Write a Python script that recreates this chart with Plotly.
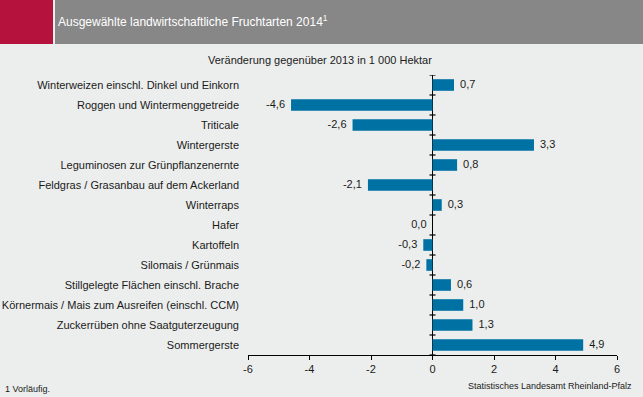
import plotly.graph_objects as go

categories = [
    "Winterweizen einschl. Dinkel und Einkorn",
    "Roggen und Wintermenggetreide",
    "Triticale",
    "Wintergerste",
    "Leguminosen zur Grünpflanzenernte",
    "Feldgras / Grasanbau auf dem Ackerland",
    "Winterraps",
    "Hafer",
    "Kartoffeln",
    "Silomais / Grünmais",
    "Stillgelegte Flächen einschl. Brache",
    "Körnermais / Mais zum Ausreifen (einschl. CCM)",
    "Zuckerrüben ohne Saatguterzeugung",
    "Sommergerste",
]
values = [0.7, -4.6, -2.6, 3.3, 0.8, -2.1, 0.3, 0.0, -0.3, -0.2, 0.6, 1.0, 1.3, 4.9]
x_ticks = [-6, -4, -2, 0, 2, 4, 6]
x_tick_labels = ["-6", "-4", "-2", "0", "2", "4", "6"]

title_text = "Ausgewählte landwirtschaftliche Fruchtarten 2014<sup>1</sup>"
subtitle_text = "Veränderung gegenüber 2013 in 1 000 Hektar"
footnote_text = "1 Vorläufig."
source_text = "Statistisches Landesamt Rheinland-Pfalz"

W, H = 643, 397
L, R, T, B = 248, 26, 75, 42
PW, PH = W - L - R, H - T - B
FONT = "Liberation Sans, Arial, sans-serif"
BAR = "#0071A3"
BG = "#ECEEED"


def px(x):
    return (x - L) / PW


def py(y):
    return (H - B - y) / PH


fig = go.Figure()
fig.add_trace(go.Bar(
    x=values, y=categories, orientation="h",
    marker=dict(color=BAR, line=dict(width=0)),
    hoverinfo="skip",
))
labels = [f"{v:.1f}".replace(".", ",") for v in values]
fig.add_trace(go.Scatter(
    x=values, y=categories, mode="markers+text",
    text=labels,
    textposition=["middle right" if v > 0 else "middle left" for v in values],
    marker=dict(size=8, opacity=0),
    textfont=dict(family=FONT, size=11, color="#1a1a1a"),
    hoverinfo="skip", cliponaxis=False,
))

shapes = [
    dict(type="rect", xref="paper", yref="paper", x0=px(0), x1=px(53), y0=py(44), y1=py(0),
         fillcolor="#B5123E", line=dict(width=0), layer="below"),
    dict(type="rect", xref="paper", yref="paper", x0=px(55), x1=px(W), y0=py(44), y1=py(0),
         fillcolor="#878787", line=dict(width=0), layer="below"),
]
for i in range(len(categories) + 1):
    shapes.append(dict(type="line", xref="x", yref="y", xsizemode="pixel", xanchor=0,
                       x0=-3, x1=3, y0=i - 0.5, y1=i - 0.5,
                       line=dict(color="#000000", width=1.2)))

annotations = [
    dict(text=subtitle_text, xref="paper", yref="paper", x=px(320), y=py(60),
         xanchor="center", yanchor="middle", showarrow=False,
         font=dict(family=FONT, size=11, color="#1a1a1a")),
    dict(text=footnote_text, xref="paper", yref="paper", x=px(3), y=py(389),
         xanchor="left", yanchor="middle", showarrow=False,
         font=dict(family=FONT, size=9, color="#1a1a1a")),
    dict(text=source_text, xref="paper", yref="paper", x=px(634), y=py(386),
         xanchor="right", yanchor="middle", showarrow=False,
         font=dict(family=FONT, size=9, color="#1a1a1a")),
]

fig.update_layout(
    width=W, height=H, autosize=False,
    margin=dict(l=L, r=R, t=T, b=B, pad=0, autoexpand=False),
    paper_bgcolor=BG, plot_bgcolor=BG,
    showlegend=False,
    bargap=0.42,
    title=dict(text=title_text, xref="container", yref="container",
               x=58 / W, y=1 - 22 / H, xanchor="left", yanchor="middle",
               font=dict(family=FONT, size=12, color="#ffffff")),
    shapes=shapes,
    annotations=annotations,
    xaxis=dict(range=[-6, 6], tickvals=x_ticks, ticktext=x_tick_labels,
               automargin=False,
               showgrid=False, zeroline=True, zerolinecolor="#000000", zerolinewidth=1,
               showline=True, linecolor="#000000", linewidth=1,
               ticks="outside", ticklen=4, tickcolor="#000000",
               tickfont=dict(family=FONT, size=11, color="#1a1a1a"), fixedrange=True),
    yaxis=dict(categoryorder="array", categoryarray=categories,
               range=[len(categories) - 0.5, -0.5], autorange=False,
               automargin=False,
               showgrid=False, zeroline=False, showline=False, ticks="",
               ticklabelstandoff=8,
               tickfont=dict(family=FONT, size=11, color="#1a1a1a"), fixedrange=True),
)

fig.write_html(
    "out.html",
    config={"displayModeBar": False, "staticPlot": True},
    post_script="document.body.style.margin='0';document.body.style.padding='0';document.body.style.overflow='hidden';",
)
